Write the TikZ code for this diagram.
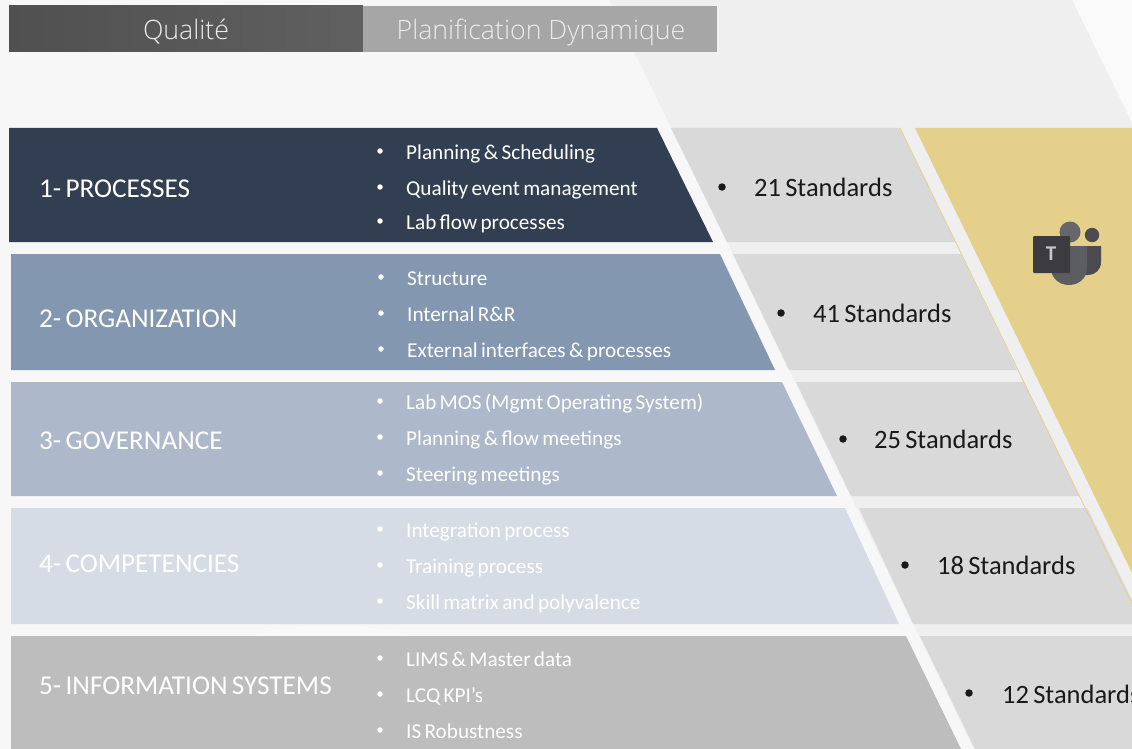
\documentclass[tikz,border=0pt]{standalone}
\usepackage{fontspec}
\setmainfont[WordSpace=0.7]{Carlito}
\newfontfamily\lightfont{Open Sans Light}
\usepackage{tikz}
\definecolor{bgA}{HTML}{F7F7F7}
\definecolor{bgB}{HTML}{EFEFEF}
\definecolor{bgC}{HTML}{FAFAFA}
\definecolor{cellgray}{HTML}{D9D9D9}
\definecolor{goldc}{HTML}{E4D08A}
\definecolor{rowA}{HTML}{323F52}
\definecolor{rowB}{HTML}{8497B0}
\definecolor{rowC}{HTML}{ADB9CA}
\definecolor{rowD}{HTML}{D6DCE5}
\definecolor{rowE}{HTML}{BDBDBD}
\definecolor{tabL}{HTML}{505050}
\definecolor{tabR}{HTML}{606060}
\definecolor{tabB}{HTML}{A6A6A6}
\definecolor{icA}{HTML}{3B3B40}
\definecolor{icB}{HTML}{65676D}
\definecolor{icC}{HTML}{4A4A4F}
\definecolor{icD}{HTML}{5C5D62}
\tikzset{
  title/.style={anchor=base west,inner sep=0pt,text=white,font=\fontsize{27.2}{30}\selectfont},
  item/.style={anchor=base west,inner sep=0pt,text=white,font=\fontsize{21.2}{25}\selectfont},
  dot/.style={circle,fill=white,inner sep=0pt,minimum size=5.5pt},
  std/.style={anchor=base west,inner sep=0pt,text=black!90,font=\fontsize{26.5}{30}\selectfont},
  sdot/.style={circle,fill=black!90,inner sep=0pt,minimum size=7.5pt},
  tabtext/.style={anchor=center,inner sep=0pt,text=white!92!black,font=\lightfont\fontsize{26.7}{30}\selectfont},
}
\begin{document}
\begin{tikzpicture}[x=1pt,y=-1pt]
\useasboundingbox (0,0) rectangle (1132,749);
% background
\fill[bgA] (0,0) rectangle (1132,749);
\fill[bgC] (1072,0) -- (1132,0) -- (1132,123) -- cycle;
\fill[bgB] (609,0) -- (1072,0) -- (1132,123) -- (1132,749) -- (974,749) -- cycle;
\fill[white,opacity=.35] (250,636) .. controls (290,622) and (370,622) .. (412,636) -- cycle;
% tabs
\fill[left color=tabL,right color=tabR] (9,6) rectangle (363,52);
\fill[tabB] (363,6) rectangle (717,52);
\node[tabtext] (tabq) at (186,32) {Qualité};
\node[tabtext] (tabp) at (541,32) {Planification Dynamique};
% gold band
\fill[goldc] (915,128) -- (1132,128) -- (1132,573) -- cycle;
% grey cells
\fill[cellgray] (671,128) -- (900,128) -- (955,242) -- (727,242) -- cycle;
\fill[cellgray] (733,254) -- (961,254) -- (1017,370) -- (789,370) -- cycle;
\fill[cellgray] (796,382) -- (1024,382) -- (1079,496) -- (851,496) -- cycle;
\fill[cellgray] (859,508) -- (1087,508) -- (1132,600) -- (1132,624) -- (913,624) -- cycle;
\fill[cellgray] (920,636) -- (1132,636) -- (1132,749) -- (975,749) -- cycle;
% gold hairline
\draw[goldc,line width=.8pt] (900,128) -- (1132,604);
% rows
\fill[rowA] (9,128) -- (657,128) -- (713,242) -- (9,242) -- cycle;
\fill[rowB] (11,254) -- (720,254) -- (775,370) -- (11,370) -- cycle;
\fill[rowC] (11,382) -- (782,382) -- (837,496) -- (11,496) -- cycle;
\fill[rowD] (11,508) -- (845,508) -- (899,624) -- (11,624) -- cycle;
\fill[rowE] (11,636) -- (906,636) -- (961,749) -- (11,749) -- cycle;
% titles
\node[title] (t1) at (39,197) {1- PROCESSES};
\node[title] (t2) at (39,327) {2- ORGANIZATION};
\node[title] (t3) at (39,449) {3- GOVERNANCE};
\node[title] (t4) at (39,572) {4- COMPETENCIES};
\node[title] (t5) at (39,694) {5- INFORMATION SYSTEMS};
% bullets
\foreach \n/\x/\y in {a/380/151,b/380/187,c/380/221,d/381/277,e/381/313,f/381/349,g/380/401,h/380/437,i/380/473,j/380/529,k/380/565,l/380/601,m/380/658,n/380/694,o/380/730}
  \node[dot] (dot\n) at (\x,\y) {};
% items
\node[item] (i1) at (406,159) {Planning \& Scheduling};
\node[item] (i2) at (406,195) {Quality event management};
\node[item] (i3) at (406,229) {Lab flow processes};
\node[item] (i4) at (407,285) {Structure};
\node[item] (i5) at (407,321) {Internal R\&R};
\node[item] (i6) at (407,357) {External interfaces \& processes};
\node[item] (i7) at (406,409) {Lab MOS (Mgmt Operating System)};
\node[item] (i8) at (406,445) {Planning \& flow meetings};
\node[item] (i9) at (406,481) {Steering meetings};
\node[item] (i10) at (406,537) {Integration process};
\node[item] (i11) at (406,573) {Training process};
\node[item] (i12) at (406,609) {Skill matrix and polyvalence};
\node[item] (i13) at (406,666) {LIMS \& Master data};
\node[item] (i14) at (406,702) {LCQ KPI’s};
\node[item] (i15) at (406,738) {IS Robustness};
% standards
\node[sdot] (s1d) at (722,187) {};
\node[std] (s1) at (754,196) {21 Standards};
\node[sdot] (s2d) at (781,313) {};
\node[std] (s2) at (813,322) {41 Standards};
\node[sdot] (s3d) at (843,439) {};
\node[std] (s3) at (874,448) {25 Standards};
\node[sdot] (s4d) at (905,565) {};
\node[std] (s4) at (937,574) {18 Standards};
\node[sdot] (s5d) at (969,693) {};
\node[std] (s5) at (1002,703) {12 Standards};
% Teams icon
\fill[icC] (1092,235) circle (7.2);
\fill[icB] (1070,232) circle (10.5);
\fill[icC] (1082,246) -- (1101,246) -- (1101,262) .. controls (1101,270) and (1095,275) .. (1088,275) -- (1082,275) -- cycle;
\fill[icD] (1051,246) -- (1087,246) -- (1087,268) .. controls (1087,278) and (1079,285) .. (1069,285) .. controls (1059,285) and (1051,278) .. (1051,268) -- cycle;
\fill[icA,rounded corners=1pt] (1033,236) rectangle (1070,273);
\node[inner sep=0pt,text=black!22,font=\bfseries\fontsize{21}{26}\selectfont] (teamsT) at (1051,254) {T};
\end{tikzpicture}
\end{document}
